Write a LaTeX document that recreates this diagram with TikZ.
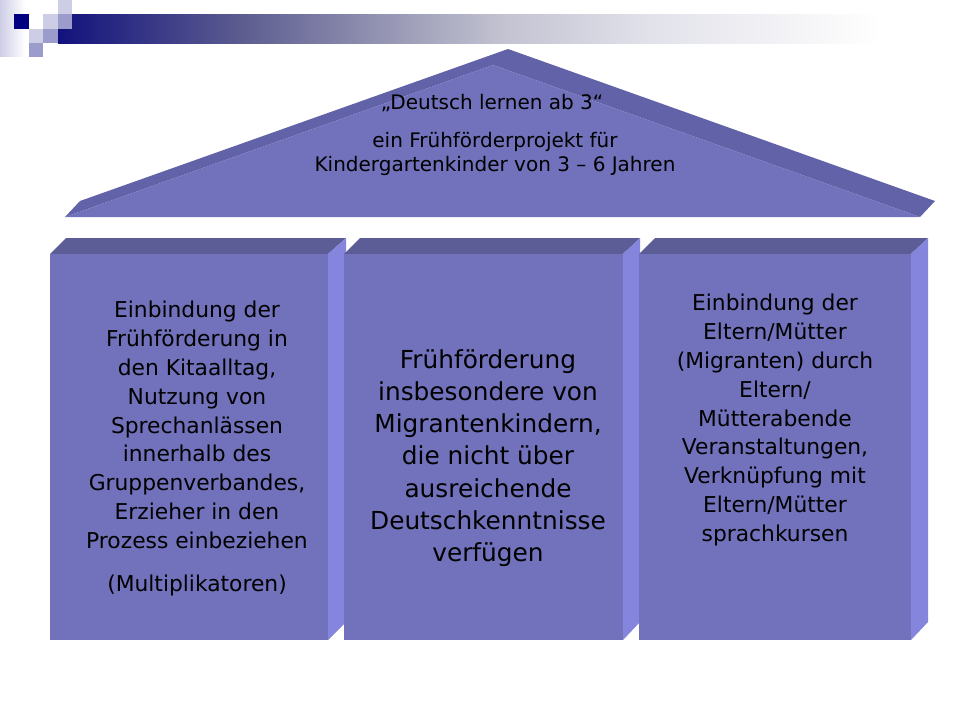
\documentclass[tikz,border=0pt]{standalone}
\usepackage{fontspec}
\setmainfont{DejaVu Sans}
\definecolor{frontblue}{HTML}{7272BC}
\definecolor{topblue}{HTML}{5C5C96}
\definecolor{sideblue}{HTML}{8585DD}
\definecolor{roofblue}{HTML}{6262A8}
\definecolor{darksq}{HTML}{000080}
\definecolor{midsq}{HTML}{9C9CCC}
\definecolor{lightsq}{HTML}{CDCDE6}
\pgfdeclarehorizontalshading{barfade}{100bp}{rgb(0bp)=(.07,.07,.49); rgb(25bp)=(.07,.07,.49); rgb(35.1bp)=(.36,.36,.565); rgb(44bp)=(.61,.61,.72); rgb(49.5bp)=(.76,.76,.82); rgb(57.8bp)=(.885,.885,.92); rgb(66.1bp)=(.96,.96,.97); rgb(70.6bp)=(1,1,1); rgb(100bp)=(1,1,1)}
\begin{document}
\begin{tikzpicture}[x=1pt,y=-1pt]
      \tikzstyle{every node}=[align=center,text=black,inner sep=0]
      \tikzstyle{smalltext}=[font=\fontsize{20}{24}\selectfont]
      \tikzstyle{sidetext}=[font=\fontsize{21.8}{28.8}\selectfont]
      \tikzstyle{midtext}=[font=\fontsize{24.8}{32.2}\selectfont]
      \useasboundingbox (0,0) rectangle (960,720);
      \fill[white] (0,0) rectangle (960,720);
      %
      \shade[left color=lightsq,right color=white] (0,0) rectangle (25,56);
      \shade[shading=barfade] (58,14) rectangle (960,43);
      \fill[darksq] (14,14) rectangle (29,29);
      \fill[lightsq] (43,14) rectangle (58,29);
      \fill[lightsq] (58,0) rectangle (72,14);
      \fill[midsq] (58,14) rectangle (72,29);
      \fill[lightsq] (29,29) rectangle (43,43);
      \fill[midsq] (43,29) rectangle (58,43);
      \fill[midsq] (29,43) rectangle (43,57);
      %
      \fill[roofblue] (65,217) -- (80,201) -- (508,49) -- (935,201) -- (920,217) -- (493,65) -- cycle;
      \fill[frontblue] (65,217) -- (493,65) -- (920,217) -- cycle;
      %
      \fill[topblue] (50,254) -- (66,238) -- (346,238) -- (328,254) -- cycle;
      \fill[sideblue] (328,254) -- (346,238) -- (346,622) -- (328,640) -- cycle;
      \fill[frontblue] (50,254) rectangle (328,640);
      \fill[topblue] (344,254) -- (360,238) -- (640,238) -- (623,254) -- cycle;
      \fill[sideblue] (623,254) -- (640,238) -- (640,622) -- (623,640) -- cycle;
      \fill[frontblue] (344,254) rectangle (623,640);
      \fill[topblue] (639,254) -- (655,238) -- (928,238) -- (911,254) -- cycle;
      \fill[sideblue] (911,254) -- (928,238) -- (928,622) -- (911,640) -- cycle;
      \fill[frontblue] (639,254) rectangle (911,640);
      %
      \node [smalltext] (title) at (492,103) {„Deutsch lernen ab 3“};
      \node [smalltext] (subtitle) at (495,154) {ein Frühförderprojekt für\\Kindergartenkinder von 3 – 6 Jahren};
      \node [sidetext] (left) at (197,425) {Einbindung der\\Frühförderung in\\den Kitaalltag,\\Nutzung von\\Sprechanlässen\\innerhalb des\\Gruppenverbandes,\\Erzieher in den\\Prozess einbeziehen};
      \node [sidetext] (leftend) at (197,585) {(Multiplikatoren)};
      \node [midtext] (middle) at (488,458) {Frühförderung\\insbesondere von\\Migrantenkindern,\\die nicht über\\ausreichende\\Deutschkenntnisse\\verfügen};
      \node [sidetext] (right) at (775,420) {Einbindung der\\Eltern/Mütter\\(Migranten) durch\\Eltern/\\Mütterabende\\Veranstaltungen,\\Verknüpfung mit\\Eltern/Mütter\\sprachkursen};
\end{tikzpicture}
\end{document}
